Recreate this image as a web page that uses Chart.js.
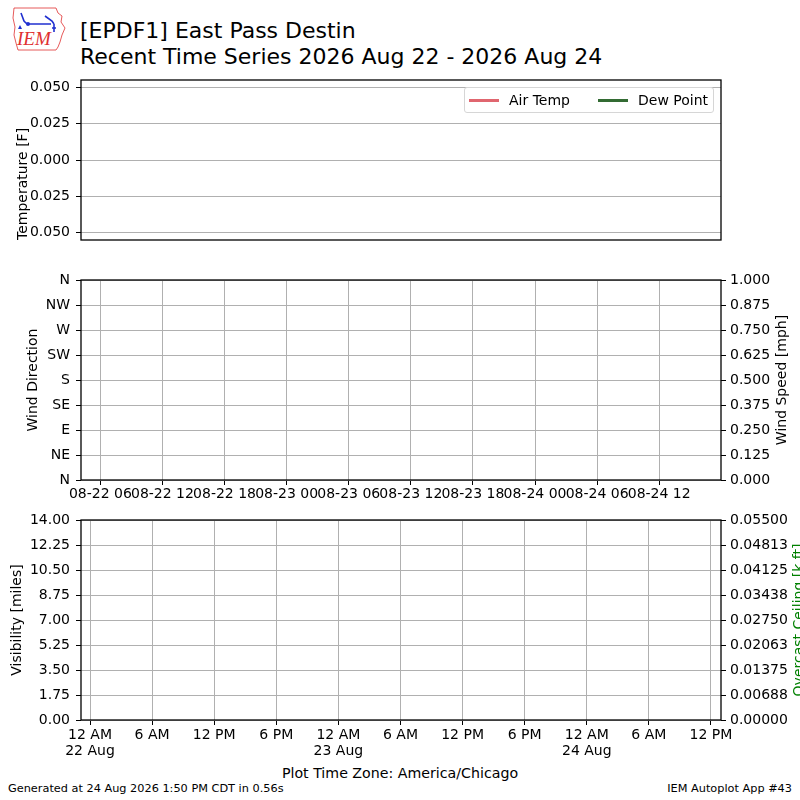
<!DOCTYPE html>
<html>
<head>
<meta charset="utf-8">
<script src="https://cdn.jsdelivr.net/npm/chart.js@4.4.1/dist/chart.umd.min.js"></script>
<style>
  html, body { margin:0; padding:0; width:800px; height:800px; overflow:hidden; background:#fff; }
  body { position:relative; font-family:"DejaVu Sans", sans-serif; color:#000; }
  canvas { position:absolute; left:0; }
  .txt { position:absolute; white-space:nowrap; }
  .vtitle { position:absolute; white-space:nowrap; font-size:14px; transform:translate(-50%,-50%) rotate(-90deg); }
  #legend { position:absolute; left:464px; top:87px; width:248px; height:24px; border:1px solid #d6d6d6;
            border-radius:3px; background:rgba(255,255,255,0.8); font-size:14px; }
  #legend .item { position:absolute; top:0; height:24px; line-height:24px; }
  #legend .swatch { position:absolute; top:11px; width:30px; height:3px; }
</style>
</head>
<body>

<svg class="txt" style="left:9px;top:5px" width="60" height="48" viewBox="0 0 60 48">
  <path d="M5 3 L47 3 L49 8 L53 11 L52 17 L56 23 L53 30 L51 37 L49 42 L47 45 L9 45 L7 38 L5 30 L6 22 L4 13 Z"
        fill="none" stroke="#e03030" stroke-width="0.8"/>
  <path d="M12 8 L15 16 L18 19 M18 19 L42 19 M36 11 L43 16 L45 19 M45 19 L45 27 M43 23 L47 23" stroke="#2030d0" stroke-width="1.6" fill="none"/>
  <path d="M9 24 L11 20 L13 24 Z" fill="#2030d0"/>
  <circle cx="19" cy="19" r="2" fill="#2030d0"/>
  <text x="8" y="40" font-family="Liberation Serif" font-style="italic" font-size="19" fill="#e03030">IEM</text>
</svg>

<div class="txt" style="left:80px;top:18px;font-size:22px">[EPDF1] East Pass Destin</div>
<div class="txt" style="left:80px;top:44px;font-size:22px">Recent Time Series 2026 Aug 22 - 2026 Aug 24</div>

<canvas id="tempChart" width="800" height="180" style="top:70px"></canvas>
<canvas id="windChart" width="800" height="240" style="top:270px"></canvas>
<canvas id="visChart" width="808" height="250" style="top:510px"></canvas>

<div id="legend"></div>
<div id="rightTitles"></div>

<div class="txt" style="left:0;width:800px;top:765px;text-align:center;font-size:14.2px">Plot Time Zone: America/Chicago</div>
<div class="txt" style="left:8px;top:782px;font-size:11.3px">Generated at 24 Aug 2026 1:50 PM CDT in 0.56s</div>
<div class="txt" style="right:8px;top:782px;font-size:11.3px">IEM Autoplot App #43</div>

<script>
// hours since 22 Aug 2026 00:00 CDT
const X_MIN = -0.87;
const X_MAX = 60.97;

// no observations in the window, every series is empty
const airTemp = [];
const dewPoint = [];
const windDir = [];
const windSpeed = [];
const visibility = [];
const ceiling = [];

const TEMP_TICKS = [-0.05, -0.025, 0, 0.025, 0.05];
const TEMP_TICK_LABELS = ['0.050', '0.025', '0.000', '0.025', '0.050'];

const DIR_TICKS = [0, 45, 90, 135, 180, 225, 270, 315, 360];
const DIR_TICK_LABELS = ['N', 'NE', 'E', 'SE', 'S', 'SW', 'W', 'NW', 'N'];
const SPEED_TICKS = [0, 0.125, 0.25, 0.375, 0.5, 0.625, 0.75, 0.875, 1.0];

// wind panel x labels are UTC (CDT + 5)
const WIND_X_TICKS = [1, 7, 13, 19, 25, 31, 37, 43, 49, 55];
const WIND_X_LABELS = ['08-22 06', '08-22 12', '08-22 18', '08-23 00', '08-23 06',
                       '08-23 12', '08-23 18', '08-24 00', '08-24 06', '08-24 12'];

const VIS_TICKS = [0, 1.75, 3.5, 5.25, 7, 8.75, 10.5, 12.25, 14];
const CEIL_TICKS = [0, 0.006875, 0.01375, 0.020625, 0.0275, 0.034375, 0.04125, 0.048125, 0.055];
const VIS_X_TICKS = [0, 6, 12, 18, 24, 30, 36, 42, 48, 54, 60];
const VIS_X_LABELS = [['12 AM', '22 Aug'], '6 AM', '12 PM', '6 PM', ['12 AM', '23 Aug'], '6 AM',
                      '12 PM', '6 PM', ['12 AM', '24 Aug'], '6 AM', '12 PM'];

const LEGEND_LABELS = ['Air Temp', 'Dew Point'];
const LEGEND_COLORS = ['#e0666f', '#336b33'];

Chart.defaults.font.family = '"DejaVu Sans", sans-serif';
Chart.defaults.font.size = 14;
Chart.defaults.color = '#000';

const GRID = '#b0b0b0';
const tickFont = { size: 14, lineHeight: 1.15 };
const titleFont = { size: 14 };

// black box round each axes, like matplotlib spines
const framePlugin = {
  id: 'frame',
  afterDraw(chart) {
    const a = chart.chartArea;
    const ctx = chart.ctx;
    ctx.save();
    ctx.strokeStyle = '#000';
    ctx.lineWidth = 1.3;
    ctx.strokeRect(a.left, a.top, a.right - a.left, a.bottom - a.top);
    ctx.restore();
  }
};

function setTicks(values){
  return scale => { scale.ticks = values.map(v => ({ value: v })); };
}
// fixed axis sizes so the plot areas land where the reference has them
function fixWidth(w){
  return scale => { scale.width = w; scale.paddingTop = 0; scale.paddingBottom = 0; };
}
function fixHeight(h){
  return scale => { scale.height = h; scale.paddingLeft = 0; scale.paddingRight = 0; };
}

function yLeft(ticks, labels, title, titlePad, align, min, max){
  return {
    position: 'left',
    min: min,
    max: max,
    afterBuildTicks: setTicks(ticks),
    afterFit: fixWidth(81),
    grid: { color: GRID, lineWidth: 1, tickLength: 5, tickColor: '#000' },
    border: { display: false },
    ticks: { font: tickFont, padding: 6, autoSkip: false,
             callback: (v, i) => labels[i] },
    title: { display: true, text: title, font: titleFont, align: align,
             padding: { top: titlePad, bottom: 0 } }
  };
}

function yRight(ticks, labels, width, min, max){
  return {
    position: 'right',
    min: min,
    max: max,
    afterBuildTicks: setTicks(ticks),
    afterFit: fixWidth(width),
    grid: { drawOnChartArea: false, tickLength: 5, tickColor: '#000' },
    border: { display: false },
    ticks: { font: tickFont, padding: 4, autoSkip: false,
             callback: (v, i) => labels[i] }
  };
}

function xAxis(ticks, labels, height, pad){
  return {
    type: 'linear',
    min: X_MIN,
    max: X_MAX,
    afterBuildTicks: setTicks(ticks),
    afterFit: fixHeight(height),
    grid: { color: GRID, lineWidth: 1, tickLength: 5, tickColor: '#000' },
    border: { display: false },
    ticks: { font: tickFont, padding: pad, autoSkip: false, maxRotation: 0, minRotation: 0,
             callback: (v, i) => labels[i] }
  };
}

const common = {
  responsive: false,
  maintainAspectRatio: false,
  animation: false,
  plugins: { legend: { display: false }, tooltip: { enabled: false } }
};

// temperature panel
new Chart(document.getElementById('tempChart'), {
  type: 'line',
  data: {
    datasets: [
      { label: LEGEND_LABELS[0], data: airTemp, borderColor: LEGEND_COLORS[0], borderWidth: 2, pointRadius: 0 },
      { label: LEGEND_LABELS[1], data: dewPoint, borderColor: LEGEND_COLORS[1], borderWidth: 2, pointRadius: 0 }
    ]
  },
  options: Object.assign({}, common, {
    layout: { padding: { top: 10, bottom: 10, left: 0, right: 79 } },
    scales: {
      x: { type: 'linear', min: X_MIN, max: X_MAX, display: false },
      y: yLeft(TEMP_TICKS, TEMP_TICK_LABELS, 'Temperature [F]', 15, 'start', -0.055, 0.055)
    }
  }),
  plugins: [framePlugin]
});

// wind panel
new Chart(document.getElementById('windChart'), {
  type: 'scatter',
  data: {
    datasets: [
      { label: 'Wind Direction', data: windDir, yAxisID: 'y', pointRadius: 2 },
      { label: 'Wind Speed', data: windSpeed, yAxisID: 'y2', type: 'line', pointRadius: 0 }
    ]
  },
  options: Object.assign({}, common, {
    layout: { padding: { top: 10, bottom: 0, left: 0, right: 0 } },
    scales: {
      x: xAxis(WIND_X_TICKS, WIND_X_LABELS, 30, 1),
      y: yLeft(DIR_TICKS, DIR_TICK_LABELS, 'Wind Direction', 25, 'center', 0, 360),
      y2: yRight(SPEED_TICKS, SPEED_TICKS.map(v => v.toFixed(3)), 79, 0, 1)
    }
  }),
  plugins: [framePlugin]
});

// visibility / ceiling panel
new Chart(document.getElementById('visChart'), {
  type: 'line',
  data: {
    datasets: [
      { label: 'Visibility', data: visibility, yAxisID: 'y', borderColor: '#000', pointRadius: 0 },
      { label: 'Overcast Ceiling', data: ceiling, yAxisID: 'y2', borderColor: '#008000', pointRadius: 0 }
    ]
  },
  options: Object.assign({}, common, {
    layout: { padding: { top: 10, bottom: 0, left: 0, right: 0 } },
    scales: {
      x: xAxis(VIS_X_TICKS, VIS_X_LABELS, 40, 2),
      y: yLeft(VIS_TICKS, VIS_TICKS.map(v => v.toFixed(2)), 'Visibility [miles]', 9, 'center', 0, 14),
      y2: yRight(CEIL_TICKS, CEIL_TICKS.map(v => v.toFixed(5)), 87, 0, 0.055)
    }
  }),
  plugins: [framePlugin]
});

// right-hand axis titles read bottom to top, as matplotlib draws them
const rightTitles = [
  { text: 'Wind Speed [mph]', x: 781, y: 380, color: '#000' },
  { text: 'Overcast Ceiling [k ft]', x: 798, y: 620, color: '#008000' }
];
const rt = document.getElementById('rightTitles');
rightTitles.forEach(t => {
  const d = document.createElement('div');
  d.className = 'vtitle';
  d.style.left = t.x + 'px';
  d.style.top = t.y + 'px';
  d.style.color = t.color;
  d.textContent = t.text;
  rt.appendChild(d);
});

// legend box inside the temperature axes
const legend = document.getElementById('legend');
const swatchX = [4, 133];
LEGEND_LABELS.forEach((label, i) => {
  const sw = document.createElement('div');
  sw.className = 'swatch';
  sw.style.left = swatchX[i] + 'px';
  sw.style.background = LEGEND_COLORS[i];
  legend.appendChild(sw);
  const t = document.createElement('div');
  t.className = 'item';
  t.style.left = (swatchX[i] + 40) + 'px';
  t.textContent = label;
  legend.appendChild(t);
});
</script>
</body>
</html>
